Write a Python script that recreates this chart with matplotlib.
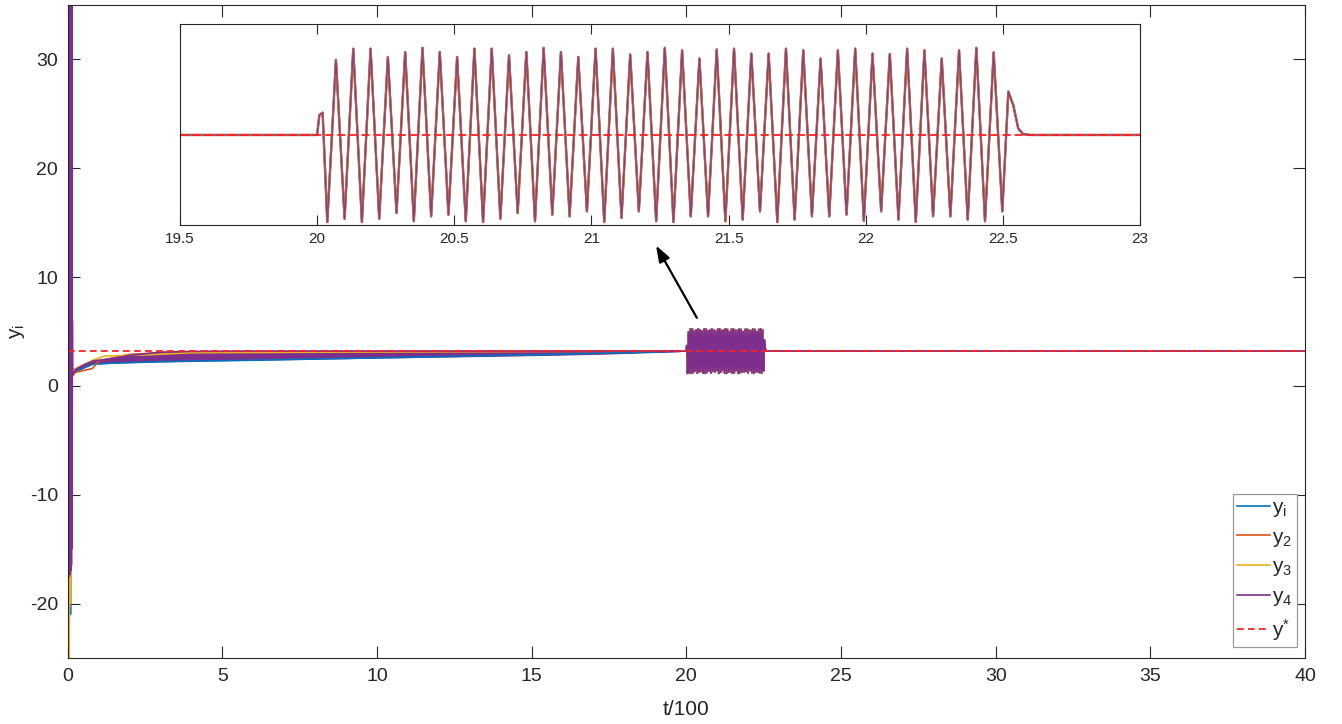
import numpy as np
import matplotlib
matplotlib.use("Agg")
import matplotlib.pyplot as plt

plt.rcParams['font.family'] = ['Liberation Sans', 'DejaVu Sans']
plt.rcParams['axes.unicode_minus'] = False
plt.rcParams['mathtext.fontset'] = 'custom'
plt.rcParams['mathtext.rm'] = 'Liberation Sans'
plt.rcParams['mathtext.it'] = 'Liberation Sans'

# ---------------- data ----------------
y_star = 3.2

# early transient (t/100)
y1_early_t = [0.0, 0.01, 0.02, 0.03, 0.04, 0.05, 0.06, 0.07, 0.08, 0.09, 0.10, 0.11, 0.12, 0.13, 0.14]
y1_early_v = [0.0, -10.0, 25.0, -15.0, 30.0, -21.3, 20.0, -20.0, 15.0, -21.0, 10.0, -5.0, 6.5, 6.3, 1.0]
y2_early_t = [0.0, 0.01, 0.02, 0.03, 0.04, 0.05, 0.06, 0.07, 0.08, 0.09, 0.10, 0.11, 0.12, 0.13, 0.15]
y2_early_v = [0.0, 45.0, -20.0, 40.0, -20.0, 35.0, -20.3, 30.0, -20.0, 20.0, -10.0, 5.0, -2.2, 1.2, 0.9]
y3_early_t = [0.0, 0.01, 0.02, 0.03, 0.04, 0.05, 0.06, 0.07, 0.08, 0.09, 0.10, 0.12, 0.14]
y3_early_v = [30.0, -40.0, 20.0, -30.0, 25.0, -25.0, 10.0, -18.1, 30.0, -20.0, 5.0, 1.5, 1.5]
y4_early_t = [0.0, 0.01, 0.02, 0.03, 0.04, 0.05, 0.06, 0.07, 0.08, 0.09, 0.10,
              0.11, 0.12, 0.13, 0.14, 0.15, 0.16]
y4_early_v = [2.0, 60.0, -17.6, 58.0, -17.5, 56.0, -17.4, 54.0, -17.2, 52.0, -17.0,
              50.0, -16.5, 45.0, -15.0, 6.0, 1.0]

# slow convergence phase
y1_slow_t = [0.25, 0.8, 1.5, 3.0, 6.0, 10.0, 15.0, 19.0, 19.8]
y1_slow_v = [1.3, 2.0, 2.1, 2.22, 2.36, 2.58, 2.85, 3.12, 3.2]
y2_slow_t = [0.25, 0.8, 1.0, 2.0, 3.0, 5.0, 10.0, 15.0, 19.8]
y2_slow_v = [1.25, 1.6, 2.3, 2.9, 3.05, 3.1, 3.15, 3.18, 3.2]
y3_slow_t = [0.25, 0.8, 1.2, 2.5, 4.0, 10.0, 15.0, 19.8]
y3_slow_v = [1.6, 2.35, 2.75, 2.85, 3.05, 3.12, 3.17, 3.2]
band_t = [0.25, 0.5, 0.83, 1.4, 2.0, 3.0, 4.0, 6.0, 8.0, 10.0, 12.0, 14.0, 16.0, 17.5, 19.0, 19.8]
band_upper = [1.5, 1.9, 2.3, 2.5, 2.8, 3.1, 3.17, 3.2, 3.2, 3.2, 3.2, 3.2, 3.2, 3.2, 3.2, 3.2]
band_lower = [1.3, 1.7, 2.05, 2.12, 2.18, 2.26, 2.32, 2.41, 2.5, 2.6, 2.69, 2.78, 2.88, 2.98, 3.12, 3.2]

# oscillation burst between t/100 = 20 and 22.6 (identical for all agents)
burst_start_t = [19.5, 20.0, 20.008, 20.02]
burst_start_v = [3.2, 3.2, 3.68, 3.74]
troughs = [1.09, 1.17, 1.09, 1.17, 1.31, 1.11, 1.23, 1.27, 1.11, 1.09,
           1.17, 1.31, 1.11, 1.27, 1.23, 1.35, 1.09, 1.19, 1.35, 1.11,
           1.09, 1.23, 1.23, 1.11, 1.15, 1.35, 1.09, 1.15, 1.23, 1.23,
           1.27, 1.12, 1.35, 1.15, 1.09, 1.23, 1.23, 1.15, 1.11, 1.35]
peaks = [5.02, 5.29, 5.29, 5.09, 5.21, 5.31, 5.21, 5.09, 5.29, 5.29,
         5.13, 5.21, 5.31, 5.21, 5.09, 5.29, 5.29, 5.15, 5.21, 5.31,
         5.25, 5.05, 5.27, 5.29, 5.17, 5.17, 5.29, 5.25, 5.05, 5.25,
         5.29, 5.17, 5.16, 5.29, 5.25, 5.05, 5.25, 5.31, 5.20]
first_extremum_t, last_extremum_t = 20.037, 22.498
burst_end_t = [22.52, 22.538, 22.556, 22.574, 22.6, 40.0]
burst_end_v = [4.25, 3.92, 3.36, 3.22, 3.2, 3.2]

legend_labels = [r'y$_\mathregular{i}$', r'y$_\mathregular{2}$', r'y$_\mathregular{3}$',
                 r'y$_\mathregular{4}$', r'y$^\mathregular{*}$']
main_xticks = [0, 5, 10, 15, 20, 25, 30, 35, 40]
main_yticks = [-20, -10, 0, 10, 20, 30]
inset_xticks = [19.5, 20, 20.5, 21, 21.5, 22, 22.5, 23]
inset_xticklabels = ['19.5', '20', '20.5', '21', '21.5', '22', '22.5', '23']

# ---------------- assemble series ----------------
ext_v = []
for k in range(len(troughs)):
    ext_v.append(troughs[k])
    if k < len(peaks):
        ext_v.append(peaks[k])
ext_t = list(np.linspace(first_extremum_t, last_extremum_t, len(ext_v)))
burst_t = burst_start_t + ext_t + burst_end_t
burst_v = burst_start_v + ext_v + burst_end_v

def series(et, ev, st, sv):
    return np.array(et + st + burst_t), np.array(ev + sv + burst_v)

s1 = series(y1_early_t, y1_early_v, y1_slow_t, y1_slow_v)
s2 = series(y2_early_t, y2_early_v, y2_slow_t, y2_slow_v)
s3 = series(y3_early_t, y3_early_v, y3_slow_t, y3_slow_v)
s4 = series(y4_early_t, y4_early_v, band_t, band_upper)

colors = ['#0072BD', '#D95319', '#EDB120', '#7E2F8E']
star_color = '#FF1F1F'
txt = '#262626'

# ---------------- figure ----------------
fig = plt.figure(figsize=(13.42, 7.24), dpi=100)
ax = fig.add_axes([0.05045, 0.09116, 0.92198, 0.90193])

handles = []
for (t, v), c in zip([s1, s2, s3, s4], colors):
    h, = ax.plot(t, v, color=c, lw=1.2, solid_joinstyle='miter')
    handles.append(h)
ax.fill_between(band_t, band_lower, band_upper, color=colors[3], lw=0.8,
                edgecolor=colors[3])
hs, = ax.plot([0, 40], [y_star, y_star], color=star_color, lw=1.3,
              linestyle=(0, (3.7, 2.4)))
handles.append(hs)

ax.set_xlim(0, 40)
ax.set_ylim(-25, 35)
ax.set_xticks(main_xticks)
ax.set_yticks(main_yticks)
ax.tick_params(direction='in', length=8.9, width=0.8, colors=txt,
               labelsize=14, top=True, right=True, pad=7)
for sp in ax.spines.values():
    sp.set_color(txt)
    sp.set_linewidth(0.8)
ax.set_xlabel('t/100', fontsize=15, color=txt, labelpad=11)
ax.set_ylabel(r'y$_\mathregular{i}$', fontsize=15, color=txt, labelpad=2)

leg = ax.legend(handles, legend_labels, loc='lower right',
                bbox_to_anchor=(0.9935, 0.0168), borderaxespad=0,
                fontsize=15, handlelength=1.6, handletextpad=0.1,
                labelspacing=0.42, borderpad=0.2, fancybox=False,
                framealpha=1, edgecolor='#9a9a9a')
leg.get_frame().set_linewidth(0.9)
for tx in leg.get_texts():
    tx.set_color(txt)

ax.annotate('', xy=(19.02, 12.9), xytext=(20.34, 6.25),
            arrowprops=dict(arrowstyle='-|>,head_length=0.7,head_width=0.25',
                            color='black', lw=1.6, mutation_scale=14,
                            shrinkA=0, shrinkB=0))

# ---------------- inset ----------------
ins = fig.add_axes([0.13413, 0.68923, 0.71535, 0.27721])
bt, bv = np.array(burst_t), np.array(burst_v)
ins.plot(bt, bv, color=colors[0], lw=1.5)
ins.plot(bt, bv, color=colors[1], lw=1.7)
ins.plot(bt, bv, color=colors[2], lw=1.2)
ins.plot(bt, bv, color=colors[3], lw=1.1, alpha=0.85)
ins.plot([19.5, 23], [y_star, y_star], color=star_color, lw=1.3,
         linestyle=(0, (4.5, 2.2)))
ins.set_xlim(19.5, 23)
ins.set_ylim(1.02, 5.88)
ins.set_xticks(inset_xticks)
ins.set_xticklabels(inset_xticklabels)
ins.set_yticks([])
ins.tick_params(direction='in', length=6.9, width=0.8, colors=txt,
                labelsize=11, top=True, pad=5)
for sp in ins.spines.values():
    sp.set_color(txt)
    sp.set_linewidth(0.8)

fig.savefig('out.png', dpi=100)
